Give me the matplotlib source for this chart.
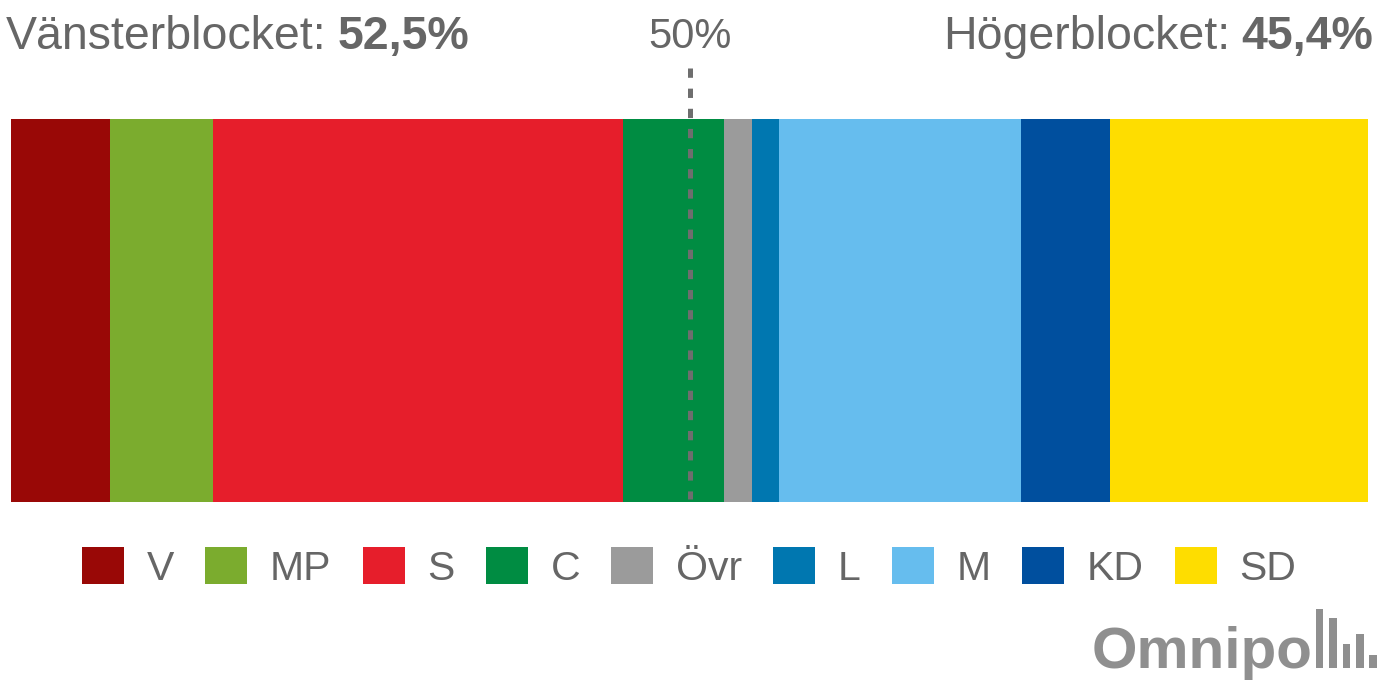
import numpy as np
import matplotlib
matplotlib.use('Agg')
import matplotlib.pyplot as plt
from matplotlib.patches import Rectangle
import matplotlib.transforms as mtransforms

plt.rcParams.update({'font.family': ['Liberation Sans', 'DejaVu Sans'],
                     'lines.scale_dashes': False, 'figure.facecolor': 'white'})

# --- data ---
parties = ['V', 'MP', 'S', 'C', 'Övr', 'L', 'M', 'KD', 'SD']
shares = [7.3, 7.6, 30.2, 7.4, 2.1, 2.0, 17.8, 6.6, 19.0]
colors = ['#990806', '#7bac2e', '#e61e2b', '#008c42', '#9b9b9b',
          '#0077b0', '#66bdee', '#004f9e', '#fedd00']
left_block = ['V', 'MP', 'S', 'C']
right_block = ['L', 'M', 'KD', 'SD']
majority = 50

TXT = '#666666'
W, H = 1380, 690

fig = plt.figure(figsize=(W / 100, H / 100), dpi=100)
ax = fig.add_axes([11.3 / W, 1 - 502.3 / H, 1357 / W, 383 / H])

lefts = np.concatenate([[0], np.cumsum(shares)[:-1]])
ax.barh([0] * len(shares), shares, left=lefts, height=1, color=colors,
        linewidth=0)
ax.set_xlim(0, sum(shares))
ax.set_ylim(-0.5, 0.5)
ax.axis('off')

# 50% dashed marker, running from above the bar down through it
trans = mtransforms.blended_transform_factory(ax.transData, ax.transAxes)
ax.plot([majority, majority], [(502.3 - 68) / 383, (502.3 - 499) / 383],
        transform=trans, color='#6e6e6e', lw=3.6, dashes=(6.7, 7.8),
        dash_capstyle='butt', clip_on=False, zorder=5)
fig.text(690 / W, 1 - 48 / H, f'{majority}%', ha='center', va='baseline',
         fontsize=30, color=TXT)

# block totals
def pct(names):
    v = sum(s for p, s in zip(parties, shares) if p in names)
    return f'{v:.1f}'.replace('.', ',') + '%'

renderer = fig.canvas.get_renderer()
base = 1 - 49 / H
gap = 11
fs = 33.5

t = fig.text(6 / W, base, 'Vänsterblocket:', ha='left', va='baseline',
             fontsize=fs, color=TXT)
wpx = t.get_window_extent(renderer).width
fig.text((6 + wpx + gap) / W, base, pct(left_block), ha='left', va='baseline',
         fontsize=fs, color=TXT, fontweight='bold')

t = fig.text(1373 / W, base, pct(right_block), ha='right', va='baseline',
             fontsize=fs, color=TXT, fontweight='bold')
wpx = t.get_window_extent(renderer).width
fig.text((1373 - wpx - gap) / W, base, 'Högerblocket:', ha='right',
         va='baseline', fontsize=fs, color=TXT)

# legend
handles = [Rectangle((0, 0), 1, 1, facecolor=c, linewidth=0) for c in colors]
leg = fig.legend(handles, parties, loc='center', bbox_to_anchor=(0.4995, 0.1775),
                 ncol=len(parties), frameon=False, fontsize=29.5,
                 handlelength=1.02, handleheight=1.02, handletextpad=0.56,
                 columnspacing=0.76, borderpad=0, borderaxespad=0)
for txt in leg.get_texts():
    txt.set_color(TXT)

# Omnipoll logo
LOGO = '#8f8f8f'
fig.text(1312 / W, 1 - 668.3 / H, 'Omnipo', ha='right', va='baseline',
         fontsize=42, fontweight='bold', color=LOGO)
logo_x = [1315.7, 1329, 1342.7, 1356, 1369]
logo_h = [59, 50.6, 24, 34.3, 13.3]
for x, h in zip(logo_x, logo_h):
    fig.patches.append(Rectangle((x / W, 1 - 668.3 / H), 7.5 / W, h / H,
                                 transform=fig.transFigure, facecolor=LOGO,
                                 linewidth=0))

fig.savefig('out.png', dpi=100)
